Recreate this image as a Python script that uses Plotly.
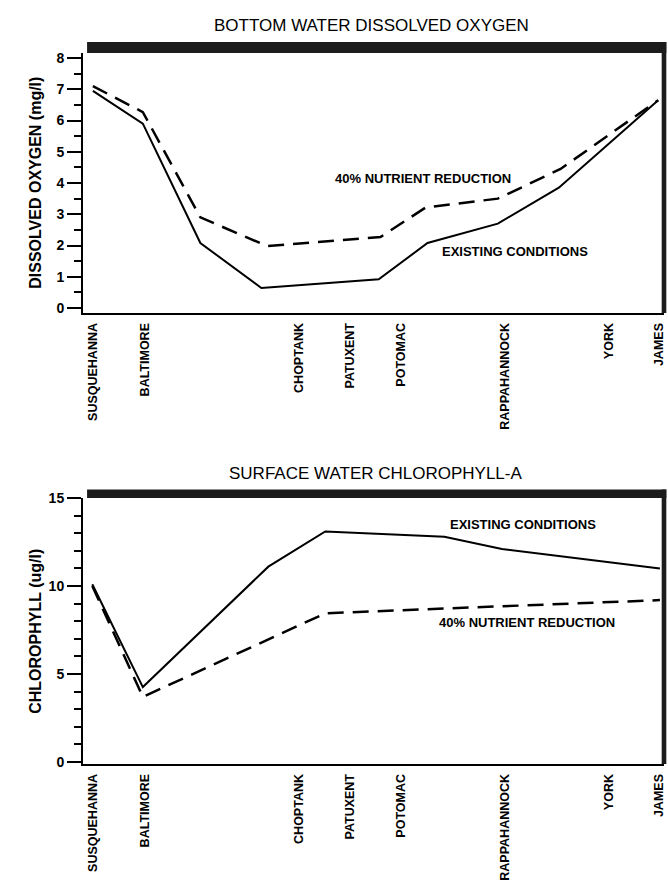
import plotly.graph_objects as go

# station positions along the bay (distance units, 0-100 across the plot width)
river_pos = [1.7, 10.7, 37.1, 46.0, 54.8, 72.6, 90.5, 99.1]
river_names = ["SUSQUEHANNA", "BALTIMORE", "CHOPTANK", "PATUXENT", "POTOMAC",
               "RAPPAHANNOCK", "YORK", "JAMES"]

# bottom water dissolved oxygen (mg/l)
do_existing_x = [1.7, 10.3, 20.2, 30.7, 50.9, 59.3, 71.4, 81.9, 99.0]
do_existing = [6.95, 5.9, 2.08, 0.64, 0.92, 2.08, 2.7, 3.85, 6.65]
do_reduced_x = [1.7, 10.3, 20.2, 31.7, 51.2, 59.0, 71.4, 82.2, 99.0]
do_reduced = [7.1, 6.27, 2.9, 1.98, 2.27, 3.22, 3.5, 4.45, 6.65]

# surface water chlorophyll-a (ug/l)
chl_existing_x = [1.6, 10.3, 31.9, 41.7, 62.2, 72.1, 99.3]
chl_existing = [10.1, 4.26, 11.1, 13.1, 12.8, 12.1, 11.0]
chl_reduced_x = [1.6, 10.3, 41.7, 62.2, 72.1, 99.3]
chl_reduced = [10.0, 3.7, 8.45, 8.7, 8.85, 9.2]

FONT = "Liberation Sans, Arial, Helvetica, sans-serif"
BOLD = dict(family=FONT, color="black", weight="bold")

fig = go.Figure()

# -- top panel: dissolved oxygen ---------------------------------------------
fig.add_trace(go.Scatter(x=do_existing_x, y=do_existing, mode="lines",
                         line=dict(color="black", width=2),
                         xaxis="x", yaxis="y", showlegend=False))
fig.add_trace(go.Scatter(x=do_reduced_x, y=do_reduced, mode="lines",
                         line=dict(color="black", width=2.5, dash="16px,9px"),
                         xaxis="x", yaxis="y", showlegend=False))

# -- bottom panel: chlorophyll -----------------------------------------------
fig.add_trace(go.Scatter(x=chl_existing_x, y=chl_existing, mode="lines",
                         line=dict(color="black", width=2),
                         xaxis="x2", yaxis="y2", showlegend=False))
fig.add_trace(go.Scatter(x=chl_reduced_x, y=chl_reduced, mode="lines",
                         line=dict(color="black", width=2.5, dash="16px,9px"),
                         xaxis="x2", yaxis="y2", showlegend=False))

xaxis_style = dict(
    range=[0, 100], tickmode="array", tickvals=river_pos, ticktext=river_names,
    tickangle=-90, tickfont=dict(size=12.5, **BOLD), automargin=False,
    showline=True, linecolor="black", linewidth=2, showgrid=False, zeroline=False,
    ticks="outside", ticklen=3, tickcolor="rgba(0,0,0,0)",
)
yaxis_style = dict(
    showline=True, linecolor="black", linewidth=2, showgrid=False, zeroline=False,
    ticks="outside", ticklen=14, tickwidth=2, tickcolor="black", automargin=False,
    tickfont=dict(size=14, **BOLD),
)

fig.update_layout(
    width=668, height=884,
    margin=dict(l=83, r=4, t=53, b=120, autoexpand=False),
    paper_bgcolor="white", plot_bgcolor="white",
    xaxis=dict(domain=[0, 1], anchor="y", **xaxis_style),
    yaxis=dict(domain=[0.6343, 1], anchor="x", range=[-0.16, 8.16],
               tickvals=list(range(0, 9)),
               minor=dict(dtick=0.5, ticks="outside", ticklen=7, tickwidth=2,
                          tickcolor="black"),
               **yaxis_style),
    xaxis2=dict(domain=[0, 1], anchor="y2", **xaxis_style),
    yaxis2=dict(domain=[0, 0.3741], anchor="x2", range=[-0.11, 15.0],
                tickvals=[0, 5, 10, 15],
                minor=dict(dtick=1, ticks="outside", ticklen=7, tickwidth=2,
                           tickcolor="black"),
                **yaxis_style),
)

# heavy frame on top and right of each panel, as in the printed figure
for xr, yr, top in (("x domain", "y domain", 0.042), ("x2 domain", "y2 domain", 0.032)):
    fig.add_shape(type="rect", xref=xr, yref=yr, x0=0.007, x1=1.004, y0=1.0, y1=1.0 + top,
                  fillcolor="#1c1c1c", line=dict(width=0))
    fig.add_shape(type="rect", xref=xr, yref=yr, x0=0.996, x1=1.004, y0=0, y1=1.0 + top,
                  fillcolor="#1c1c1c", line=dict(width=0))

# panel titles and axis titles
fig.add_annotation(text="BOTTOM WATER DISSOLVED OXYGEN", xref="paper", yref="paper",
                   x=0.496, y=1.039, xanchor="center", yanchor="middle", showarrow=False,
                   font=dict(family=FONT, size=17, color="black"))
fig.add_annotation(text="SURFACE WATER CHLOROPHYLL-A", xref="paper", yref="paper",
                   x=0.504, y=0.409, xanchor="center", yanchor="middle", showarrow=False,
                   font=dict(family=FONT, size=17, color="black"))
fig.add_annotation(text="DISSOLVED OXYGEN (mg/l)", xref="paper", yref="y domain",
                   x=-0.083, y=0.5, xanchor="center", yanchor="middle",
                   textangle=-90, showarrow=False, font=dict(size=16, **BOLD))
fig.add_annotation(text="CHLOROPHYLL (ug/l)", xref="paper", yref="y2 domain",
                   x=-0.083, y=0.5, xanchor="center", yanchor="middle",
                   textangle=-90, showarrow=False, font=dict(size=16, **BOLD))

# curve labels
labels = [
    ("40% NUTRIENT REDUCTION", "x", "y", 58.5, 4.16),
    ("EXISTING CONDITIONS", "x", "y", 74.4, 1.8),
    ("EXISTING CONDITIONS", "x2", "y2", 75.7, 13.47),
    ("40% NUTRIENT REDUCTION", "x2", "y2", 76.4, 7.95),
]
for text, xr, yr, x, y in labels:
    fig.add_annotation(text=text, xref=xr, yref=yr, x=x, y=y, showarrow=False,
                       font=dict(size=13, **BOLD))

# the page body has a default 8px margin; drop it so the figure fills the window
fig.write_html("out.html", config={"displayModeBar": False},
               post_script="document.body.style.margin='0px';")
